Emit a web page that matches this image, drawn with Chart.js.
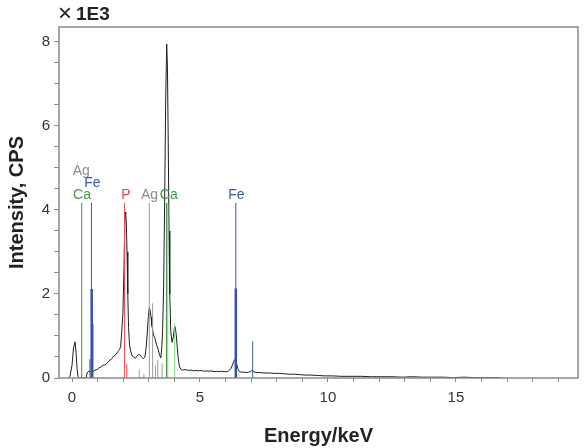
<!DOCTYPE html>
<html>
<head>
<meta charset="utf-8">
<script src="https://cdn.jsdelivr.net/npm/chart.js@4/dist/chart.umd.min.js"></script>
<style>
html,body{margin:0;padding:0;background:#fff;}
#wrap{width:586px;height:448px;position:relative;}
</style>
</head>
<body>
<div id="wrap"><canvas id="c" width="586" height="448"></canvas></div>
<script>
// Spectrum (energy in keV, intensity in 1E3 CPS)
const energy = [-0.15,-0.08,0.0,0.06,0.12,0.16,0.2,0.24,0.3,0.55,0.59,0.64,0.7,0.78,0.85,0.9,0.98,1.05,1.12,1.2,1.28,1.36,1.42,1.48,1.55,1.61,1.67,1.72,1.8,1.86,1.9,1.94,1.99,2.03,2.06,2.08,2.1,2.12,2.15,2.18,2.21,2.25,2.3,2.36,2.42,2.48,2.54,2.6,2.66,2.72,2.78,2.85,2.9,2.94,2.98,3.02,3.05,3.09,3.12,3.15,3.2,3.24,3.3,3.37,3.42,3.47,3.51,3.54,3.58,3.62,3.66,3.70,3.73,3.76,3.79,3.82,3.86,3.91,3.96,4.0,4.03,4.07,4.11,4.15,4.2,4.27,4.35,4.45,4.55,4.65,4.75,4.85,4.95,5.05,5.15,5.25,5.35,5.45,5.55,5.65,5.75,5.85,5.95,6.05,6.12,6.2,6.26,6.31,6.36,6.4,6.44,6.48,6.53,6.6,6.7,6.8,6.9,6.98,7.04,7.1,7.2,7.35,7.5,7.7,7.9,8.1,8.3,8.5,8.7,8.9,9.1,9.3,9.6,9.9,10.2,10.5,10.9,11.3,11.7,12.1,12.5,12.9,13.3,13.7,14.1,14.5,14.9,15.3,15.7,16.1,16.5,16.8];
const intensity = [0,0.04,0.3,0.72,0.86,0.6,0.2,0.03,0,0,0.12,0.16,0.15,0.17,0.16,0.19,0.2,0.24,0.26,0.3,0.31,0.35,0.38,0.43,0.46,0.51,0.53,0.57,0.63,0.68,0.75,1.07,1.55,2.6,3.6,3.95,3.9,3.75,3.0,2.0,1.2,0.78,0.62,0.52,0.5,0.47,0.52,0.56,0.55,0.5,0.46,0.5,0.75,1.07,1.45,1.67,1.62,1.45,1.25,1.14,1.0,0.95,0.8,0.67,0.55,0.48,0.75,1.14,2.2,4.2,6.6,7.95,7.4,5.6,3.5,2.0,1.1,0.85,0.98,1.2,1.22,1.05,0.75,0.48,0.26,0.2,0.19,0.2,0.18,0.19,0.17,0.18,0.17,0.18,0.16,0.17,0.16,0.17,0.15,0.16,0.15,0.16,0.15,0.15,0.17,0.22,0.3,0.38,0.44,0.41,0.32,0.22,0.16,0.14,0.14,0.13,0.14,0.15,0.19,0.15,0.13,0.13,0.12,0.12,0.11,0.11,0.1,0.09,0.09,0.08,0.07,0.07,0.06,0.05,0.05,0.04,0.04,0.04,0.03,0.03,0.03,0.02,0.03,0.02,0.02,0.02,0.01,0.02,0.01,0.01,0.01,0];

// Element marker lines (energy keV, height in 1E3 CPS)
const caLinesE = [0.38, 3.69];      const caLinesH = [4.17, 4.17];
const caLightE = [3.74, 4.01];      const caLightH = [4.17, 1.3];
const feLinesE = [0.76, 0.82, 0.70, 6.40, 7.06]; const feLinesH = [4.17, 1.3, 0.45, 4.17, 0.87];
const feStrongE = [0.77, 6.40];     const feStrongH = [2.12, 2.13];
const pLinesE = [2.05, 2.14];       const pLinesH = [4.17, 0.33];
const agLinesE = [3.02, 3.15, 2.63, 2.81, 3.26, 3.35, 3.52]; const agLinesH = [4.17, 1.78, 0.2, 0.1, 0.3, 0.43, 0.35];

// Element labels
const labelText  = ['Ag','Fe','Ca','P','Ag','Ca','Fe'];
const labelE     = [0.36, 0.80, 0.39, 2.11, 3.03, 3.78, 6.42];
const labelStack = [2, 1, 0, 0, 0, 0, 0];
const labelColor = ['#8c8c8c','#3a58a6','#3f9a48','#e8413f','#8c8c8c','#3f9a48','#3a58a6'];

const xTicks = [0,1,2,3,4,5,6,7,8,9,10,11,12,13,14,15,16,17,18,19];
const yTicks = [0,0.5,1,1.5,2,2.5,3,3.5,4,4.5,5,5.5,6,6.5,7,7.5,8];

function stems(es, hs){
  const d = [];
  es.forEach((e,i)=>{ d.push({x:e,y:0}); d.push({x:e,y:hs[i]}); d.push({x:e,y:null}); });
  return d;
}
function stemSet(es, hs, color, w){
  return {type:'line', data:stems(es,hs), borderColor:color, borderWidth:w, pointRadius:0, spanGaps:false, tension:0, order:2};
}

const FONT = "'Liberation Sans', Arial, Helvetica, sans-serif";

const framePlugin = {
  id:'frame',
  afterDraw(chart){
    const {ctx, chartArea:a, scales} = chart;
    ctx.save();
    ctx.strokeStyle = '#8a8a8a';
    ctx.lineWidth = 1.5;
    ctx.strokeRect(a.left, a.top, a.right-a.left, a.bottom-a.top);
    // multiplier
    ctx.fillStyle = '#222';
    ctx.textBaseline = 'alphabetic';
    ctx.font = "24px " + FONT;
    ctx.fillText('\u00d7', a.left - 1, 21);
    ctx.font = "bold 19px " + FONT;
    ctx.fillText('1E3', a.left + 17, 20);
    // element labels
    ctx.font = "14px " + FONT;
    ctx.textAlign = 'center';
    ctx.textBaseline = 'middle';
    const topY = scales.y.getPixelForValue(4.17);
    labelText.forEach((t,i)=>{
      ctx.fillStyle = labelColor[i];
      const px = scales.x.getPixelForValue(labelE[i]);
      ctx.fillText(t, px, topY - 8 - labelStack[i]*12);
    });
    ctx.restore();
  }
};

new Chart(document.getElementById('c'), {
  type:'scatter',
  data:{
    datasets:[
      {type:'line', data: energy.map((e,i)=>({x:e,y:intensity[i]})), borderColor:'#1e1e1e', borderWidth:1, pointRadius:0, tension:0, order:3},
      stemSet(agLinesE, agLinesH, '#9c9c9c', 1),
      stemSet(pLinesE, pLinesH, '#e8504f', 1),
      stemSet(caLightE, caLightH, '#82d88a', 1),
      stemSet(caLinesE, caLinesH, '#3f8f46', 1),
      stemSet(feLinesE, feLinesH, '#3a58a6', 1),
      stemSet(feStrongE, feStrongH, '#2f4e9c', 2.5)
    ]
  },
  options:{
    responsive:false,
    animation:false,
    layout:{padding:{top:27,right:8,left:0,bottom:0}},
    plugins:{legend:{display:false}, tooltip:{enabled:false}},
    scales:{
      x:{
        type:'linear', min:-0.508, max:19.77,
        afterBuildTicks(s){ s.ticks = xTicks.map(v=>({value:v})); },
        afterFit(s){ s.height = 70; },
        ticks:{autoSkip:false, maxRotation:0, padding:7, color:'#333', font:{family:FONT, size:15},
          callback:(v)=> (v%5===0 ? String(v) : '')},
        grid:{drawOnChartArea:false, drawTicks:true, tickLength:4, color:'#8a8a8a', lineWidth:1},
        border:{display:false},
        title:{display:true, text:'Energy/keV', color:'#222', font:{family:FONT, size:20, weight:'bold'}, padding:{top:0,bottom:0}}
      },
      y:{
        type:'linear', min:0, max:8.357,
        afterBuildTicks(s){ s.ticks = yTicks.map(v=>({value:v})); },
        afterFit(s){ s.width = 59; },
        ticks:{autoSkip:false, padding:4, color:'#333', font:{family:FONT, size:15},
          callback:(v)=> (v%2===0 ? String(v) : '')},
        grid:{drawOnChartArea:false, drawTicks:true, tickLength:5, color:'#8a8a8a', lineWidth:1},
        border:{display:false},
        title:{display:true, text:'Intensity, CPS', color:'#222', font:{family:FONT, size:20, weight:'bold'}, padding:{top:5,bottom:0}}
      }
    }
  },
  plugins:[framePlugin]
});
</script>
</body>
</html>
